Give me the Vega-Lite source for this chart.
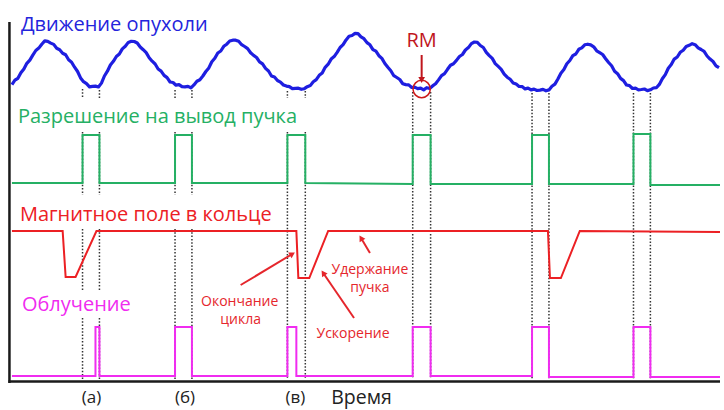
{
  "$schema": "https://vega.github.io/schema/vega-lite/v6.json",
  "width": 724,
  "height": 410,
  "padding": 0,
  "autosize": {"type": "fit", "contains": "padding"},
  "background": "white",
  "config": {"view": {"stroke": null}, "font": "Open Sans"},
  "datasets": {
    "tumor": [
      {"t":12,"v":84.6},{"t":15,"v":80.2},{"t":18,"v":78.3},{"t":21,"v":72.8},{"t":24,"v":69.0},{"t":27,"v":63.3},{"t":30,"v":60.1},{"t":33,"v":55.1},{"t":36,"v":50.5},{"t":39,"v":48.1},{"t":42,"v":44.2},{"t":45,"v":40.9},{"t":48,"v":41.4},{"t":51,"v":43.1},{"t":54,"v":44.4},{"t":57,"v":48.3},{"t":60,"v":49.7},
      {"t":63,"v":53.2},{"t":66,"v":54.7},{"t":69,"v":59.8},{"t":72,"v":62.2},{"t":75,"v":67.2},{"t":78,"v":71.5},{"t":81,"v":77.9},{"t":84,"v":81.7},{"t":87,"v":83.6},{"t":90,"v":86.8},{"t":93,"v":86.3},{"t":96,"v":86.1},{"t":99,"v":87.0},{"t":102,"v":83.1},{"t":105,"v":76.0},{"t":108,"v":71.2},{"t":111,"v":65.0},
      {"t":114,"v":61.3},{"t":117,"v":56.5},{"t":120,"v":54.0},{"t":123,"v":48.9},{"t":126,"v":46.3},{"t":129,"v":42.4},{"t":132,"v":41.3},{"t":135,"v":41.5},{"t":138,"v":43.0},{"t":141,"v":47.0},{"t":144,"v":49.7},{"t":147,"v":52.6},{"t":150,"v":57.7},{"t":153,"v":61.2},{"t":156,"v":64.0},{"t":159,"v":69.0},{"t":162,"v":71.1},
      {"t":165,"v":75.4},{"t":168,"v":77.6},{"t":171,"v":82.0},{"t":174,"v":82.5},{"t":177,"v":85.2},{"t":180,"v":84.7},{"t":183,"v":86.7},{"t":186,"v":86.9},{"t":189,"v":86.4},{"t":192,"v":87.8},{"t":195,"v":84.9},{"t":198,"v":81.2},{"t":201,"v":79.7},{"t":204,"v":76.0},{"t":207,"v":71.5},{"t":210,"v":67.9},{"t":213,"v":61.7},
      {"t":216,"v":58.3},{"t":219,"v":53.0},{"t":222,"v":51.0},{"t":225,"v":46.3},{"t":228,"v":44.2},{"t":231,"v":41.0},{"t":234,"v":40.2},{"t":237,"v":40.2},{"t":240,"v":41.3},{"t":243,"v":44.7},{"t":246,"v":46.5},{"t":249,"v":48.6},{"t":252,"v":52.8},{"t":255,"v":55.4},{"t":258,"v":57.5},{"t":261,"v":61.9},{"t":264,"v":63.9},
      {"t":267,"v":68.4},{"t":270,"v":71.0},{"t":273,"v":76.0},{"t":276,"v":77.0},{"t":279,"v":80.5},{"t":282,"v":82.1},{"t":285,"v":85.0},{"t":288,"v":86.1},{"t":291,"v":86.6},{"t":294,"v":88.6},{"t":297,"v":88.3},{"t":300,"v":88.2},{"t":303,"v":89.3},{"t":306,"v":88.7},{"t":309,"v":86.7},{"t":312,"v":85.6},{"t":315,"v":81.7},
      {"t":318,"v":79.6},{"t":321,"v":75.3},{"t":324,"v":72.9},{"t":327,"v":67.3},{"t":330,"v":64.2},{"t":333,"v":59.1},{"t":336,"v":56.6},{"t":339,"v":52.4},{"t":342,"v":47.5},{"t":345,"v":44.7},{"t":348,"v":39.9},{"t":351,"v":36.2},{"t":354,"v":35.5},{"t":357,"v":33.4},{"t":360,"v":33.7},{"t":363,"v":36.9},{"t":366,"v":38.7},
      {"t":369,"v":42.6},{"t":372,"v":44.8},{"t":375,"v":49.6},{"t":378,"v":51.2},{"t":381,"v":55.7},{"t":384,"v":58.4},{"t":387,"v":63.5},{"t":390,"v":67.2},{"t":393,"v":70.7},{"t":396,"v":75.7},{"t":399,"v":77.5},{"t":402,"v":79.5},{"t":405,"v":83.7},{"t":408,"v":84.6},{"t":411,"v":84.9},{"t":414,"v":87.5},{"t":417,"v":87.1},
      {"t":420,"v":88.6},{"t":423,"v":88.2},{"t":426,"v":89.9},{"t":429,"v":87.7},{"t":432,"v":88.4},{"t":435,"v":85.9},{"t":438,"v":83.8},{"t":441,"v":79.9},{"t":444,"v":75.6},{"t":447,"v":73.6},{"t":450,"v":69.3},{"t":453,"v":65.2},{"t":456,"v":63.7},{"t":459,"v":60.4},{"t":462,"v":56.5},{"t":465,"v":54.5},{"t":468,"v":50.0},
      {"t":471,"v":47.6},{"t":474,"v":43.6},{"t":477,"v":42.0},{"t":480,"v":42.4},{"t":483,"v":45.5},{"t":486,"v":47.5},{"t":489,"v":52.4},{"t":492,"v":55.6},{"t":495,"v":58.4},{"t":498,"v":63.6},{"t":501,"v":66.4},{"t":504,"v":69.3},{"t":507,"v":74.1},{"t":510,"v":77.2},{"t":513,"v":79.3},{"t":516,"v":82.9},{"t":519,"v":84.0},
      {"t":522,"v":86.4},{"t":525,"v":86.6},{"t":528,"v":88.9},{"t":531,"v":88.1},{"t":534,"v":89.9},{"t":537,"v":89.1},{"t":540,"v":90.5},{"t":543,"v":90.1},{"t":546,"v":89.4},{"t":549,"v":90.8},{"t":552,"v":89.9},{"t":555,"v":86.2},{"t":558,"v":84.1},{"t":561,"v":79.0},{"t":564,"v":73.2},{"t":567,"v":69.6},{"t":570,"v":63.8},
      {"t":573,"v":60.5},{"t":576,"v":55.6},{"t":579,"v":54.0},{"t":582,"v":49.3},{"t":585,"v":47.9},{"t":588,"v":44.8},{"t":591,"v":44.2},{"t":594,"v":44.9},{"t":597,"v":46.8},{"t":600,"v":50.8},{"t":603,"v":52.6},{"t":606,"v":54.5},{"t":609,"v":58.7},{"t":612,"v":62.5},{"t":615,"v":65.8},{"t":618,"v":71.2},{"t":621,"v":73.7},
      {"t":624,"v":78.4},{"t":627,"v":80.6},{"t":630,"v":85.0},{"t":633,"v":85.6},{"t":636,"v":88.5},{"t":639,"v":88.2},{"t":642,"v":89.8},{"t":645,"v":89.5},{"t":648,"v":89.0},{"t":651,"v":90.6},{"t":654,"v":89.8},{"t":657,"v":88.0},{"t":660,"v":87.7},{"t":663,"v":84.4},{"t":666,"v":78.8},{"t":669,"v":74.6},{"t":672,"v":68.2},
      {"t":675,"v":64.6},{"t":678,"v":59.1},{"t":681,"v":57.0},{"t":684,"v":52.3},{"t":687,"v":50.2},{"t":690,"v":46.5},{"t":693,"v":45.3},{"t":696,"v":43.7},{"t":699,"v":44.7},{"t":702,"v":47.8},{"t":705,"v":49.5},{"t":708,"v":51.3},{"t":711,"v":56.0},{"t":714,"v":59.1},{"t":717,"v":61.5},{"t":720,"v":65.9},{"t":723,"v":67.7}
    ],
    "signals": [
      {"s":"beam","i":1,"t":12,"v":183},{"s":"beam","i":2,"t":83,"v":183},{"s":"beam","i":3,"t":83,"v":135},{"s":"beam","i":4,"t":100,"v":135},{"s":"beam","i":5,"t":100,"v":183},
      {"s":"beam","i":6,"t":176,"v":183},{"s":"beam","i":7,"t":176,"v":135},{"s":"beam","i":8,"t":193,"v":135},{"s":"beam","i":9,"t":193,"v":183},
      {"s":"beam","i":10,"t":289,"v":183},{"s":"beam","i":11,"t":289,"v":135},{"s":"beam","i":12,"t":307,"v":135},{"s":"beam","i":13,"t":307,"v":183},
      {"s":"beam","i":14,"t":415,"v":184},{"s":"beam","i":15,"t":415,"v":135},{"s":"beam","i":16,"t":433,"v":135},{"s":"beam","i":17,"t":433,"v":184},
      {"s":"beam","i":18,"t":535,"v":184},{"s":"beam","i":19,"t":535,"v":135},{"s":"beam","i":20,"t":552,"v":135},{"s":"beam","i":21,"t":552,"v":184},
      {"s":"beam","i":22,"t":637,"v":184},{"s":"beam","i":23,"t":637,"v":134},{"s":"beam","i":24,"t":654,"v":134},{"s":"beam","i":25,"t":654,"v":185},{"s":"beam","i":26,"t":724,"v":185},
      {"s":"field","i":1,"t":12,"v":231},{"s":"field","i":2,"t":63,"v":231},{"s":"field","i":3,"t":66,"v":277},{"s":"field","i":4,"t":76,"v":277},{"s":"field","i":5,"t":97,"v":231},
      {"s":"field","i":6,"t":298,"v":231},{"s":"field","i":7,"t":300,"v":278},{"s":"field","i":8,"t":311,"v":278},{"s":"field","i":9,"t":330,"v":231},
      {"s":"field","i":10,"t":551,"v":231},{"s":"field","i":11,"t":553,"v":278},{"s":"field","i":12,"t":564,"v":278},{"s":"field","i":13,"t":583,"v":231},{"s":"field","i":14,"t":724,"v":232},
      {"s":"irr","i":1,"t":12,"v":376},{"s":"irr","i":2,"t":96,"v":376},{"s":"irr","i":3,"t":96,"v":327},{"s":"irr","i":4,"t":100,"v":327},{"s":"irr","i":5,"t":100,"v":376},
      {"s":"irr","i":6,"t":176,"v":376},{"s":"irr","i":7,"t":176,"v":327},{"s":"irr","i":8,"t":193,"v":327},{"s":"irr","i":9,"t":193,"v":376},
      {"s":"irr","i":10,"t":289,"v":376},{"s":"irr","i":11,"t":289,"v":327},{"s":"irr","i":12,"t":298,"v":327},{"s":"irr","i":13,"t":298,"v":376},
      {"s":"irr","i":14,"t":415,"v":376},{"s":"irr","i":15,"t":415,"v":327},{"s":"irr","i":16,"t":433,"v":327},{"s":"irr","i":17,"t":433,"v":376},
      {"s":"irr","i":18,"t":535,"v":376},{"s":"irr","i":19,"t":535,"v":327},{"s":"irr","i":20,"t":552,"v":327},{"s":"irr","i":21,"t":552,"v":377},
      {"s":"irr","i":22,"t":637,"v":377},{"s":"irr","i":23,"t":637,"v":327},{"s":"irr","i":24,"t":654,"v":327},{"s":"irr","i":25,"t":654,"v":377},{"s":"irr","i":26,"t":724,"v":377}
    ],
    "dots": [
      {"t":83,"v":89,"v2":98},{"t":83,"v":132,"v2":195},{"t":83,"v":229,"v2":290},{"t":83,"v":318,"v2":379},
      {"t":100,"v":90,"v2":98},{"t":100,"v":132,"v2":195},{"t":100,"v":229,"v2":290},{"t":100,"v":318,"v2":379},
      {"t":176,"v":90,"v2":98},{"t":176,"v":132,"v2":195},{"t":176,"v":229,"v2":379},
      {"t":193,"v":90,"v2":98},{"t":193,"v":132,"v2":195},{"t":193,"v":229,"v2":379},
      {"t":289,"v":91,"v2":98},{"t":289,"v":132,"v2":379},
      {"t":307,"v":91,"v2":98},{"t":307,"v":132,"v2":379},
      {"t":415,"v":92,"v2":379},{"t":433,"v":92,"v2":379},
      {"t":535,"v":93,"v2":379},{"t":552,"v":93,"v2":379},
      {"t":637,"v":93,"v2":379},{"t":654,"v":93,"v2":379}
    ],
    "labels": [
      {"label":"Движение опухоли","s":"tumor","t":21,"v":31},
      {"label":"Разрешение на вывод пучка","s":"beam","t":18,"v":123},
      {"label":"Магнитное поле в кольце","s":"field","t":20,"v":221},
      {"label":"Облучение","s":"irr","t":22,"v":311}
    ],
    "notes": [
      {"label":"Окончание","t":241,"v":306},
      {"label":"цикла","t":242,"v":324},
      {"label":"Удержание","t":372,"v":274},
      {"label":"пучка","t":372,"v":292},
      {"label":"Ускорение","t":355,"v":338}
    ],
    "phases": [
      {"label":"(а)","t":92,"v":403},
      {"label":"(б)","t":186,"v":403},
      {"label":"(в)","t":297,"v":403}
    ],
    "arrows": [
      {"kind":"rm","t":424,"v":55,"t2":424,"v2":80},
      {"kind":"note","t":242,"v":285,"t2":294,"v2":254},
      {"kind":"note","t":372,"v":253,"t2":363,"v2":238},
      {"kind":"note","t":356,"v":318,"t2":325,"v2":273}
    ],
    "frame": [
      {"t":9.5,"v":22,"t2":9.5,"v2":383},
      {"t":8.5,"v":381.5,"t2":724,"v2":381.5}
    ]
  },
  "encoding": {
    "x": {"field":"t","type":"quantitative","scale":{"domain":[0,724],"nice":false,"zero":false},"axis":null},
    "y": {"field":"v","type":"quantitative","scale":{"domain":[0,410],"nice":false,"zero":false,"reverse":true},"axis":null}
  },
  "layer": [
    {
      "data": {"name":"dots"},
      "mark": {"type":"rule","color":"#333333","strokeWidth":1.5,"strokeDash":[1.5,1.8]},
      "encoding": {"y2": {"field":"v2"}}
    },
    {
      "data": {"name":"frame"},
      "mark": {"type":"rule","color":"#1a1a1a","strokeWidth":2.5},
      "encoding": {"x2": {"field":"t2"}, "y2": {"field":"v2"}}
    },
    {
      "data": {"name":"tumor"},
      "mark": {"type":"line","color":"#1e1ee0","strokeWidth":3.2,"strokeJoin":"round"},
      "encoding": {"order": {"field":"t","type":"quantitative"}}
    },
    {
      "data": {"name":"signals"},
      "mark": {"type":"line","strokeWidth":2},
      "encoding": {
        "color": {"field":"s","type":"nominal","legend":null,"scale":{"domain":["tumor","beam","field","irr"],"range":["#2424dc","#25b064","#ec2024","#f02cf0"]}},
        "order": {"field":"i","type":"quantitative"}
      }
    },
    {
      "data": {"name":"labels"},
      "mark": {"type":"text","align":"left","baseline":"alphabetic","fontSize":20,"font":"Open Sans"},
      "encoding": {
        "text": {"field":"label"},
        "color": {"field":"s","type":"nominal","legend":null,"scale":{"domain":["tumor","beam","field","irr"],"range":["#2424dc","#25b064","#ec2024","#f02cf0"]}}
      }
    },
    {
      "data": {"name":"notes"},
      "mark": {"type":"text","align":"center","baseline":"alphabetic","fontSize":14,"font":"Open Sans","color":"#e5262c"},
      "encoding": {"text": {"field":"label"}}
    },
    {
      "data": {"values":[{"label":"RM","t":424,"v":47}]},
      "mark": {"type":"text","align":"center","baseline":"alphabetic","fontSize":20,"font":"Open Sans","color":"#c0161d"},
      "encoding": {"text": {"field":"label"}}
    },
    {
      "data": {"values":[{"t":424,"v":89}]},
      "mark": {"type":"point","shape":"circle","size":300,"filled":false,"stroke":"#cc1a1a","strokeWidth":1.5,"opacity":1}
    },
    {
      "data": {"name":"phases"},
      "mark": {"type":"text","align":"center","baseline":"alphabetic","fontSize":17,"font":"Open Sans","color":"#222222"},
      "encoding": {"text": {"field":"label"}}
    },
    {
      "data": {"values":[{"label":"Время","t":333,"v":404}]},
      "mark": {"type":"text","align":"left","baseline":"alphabetic","fontSize":19.5,"font":"Open Sans","color":"#222222"},
      "encoding": {"text": {"field":"label"}}
    },
    {
      "data": {"name":"arrows"},
      "mark": {"type":"rule","strokeWidth":2},
      "encoding": {
        "x2": {"field":"t2"}, "y2": {"field":"v2"},
        "stroke": {"field":"kind","type":"nominal","legend":null,"scale":{"domain":["rm","note"],"range":["#c0161d","#e5262c"]}}
      }
    },
    {
      "data": {"name":"arrows"},
      "transform": [{"calculate":"atan2(datum.t2 - datum.t, -(datum.v2 - datum.v)) * 180 / PI","as":"ang"}],
      "mark": {"type":"point","shape":"triangle-up","filled":true,"size":45,"opacity":1},
      "encoding": {
        "x": {"field":"t2","type":"quantitative"},
        "y": {"field":"v2","type":"quantitative"},
        "angle": {"field":"ang","type":"quantitative","scale":null},
        "fill": {"field":"kind","type":"nominal","legend":null,"scale":{"domain":["rm","note"],"range":["#c0161d","#e5262c"]}}
      }
    }
  ]
}
